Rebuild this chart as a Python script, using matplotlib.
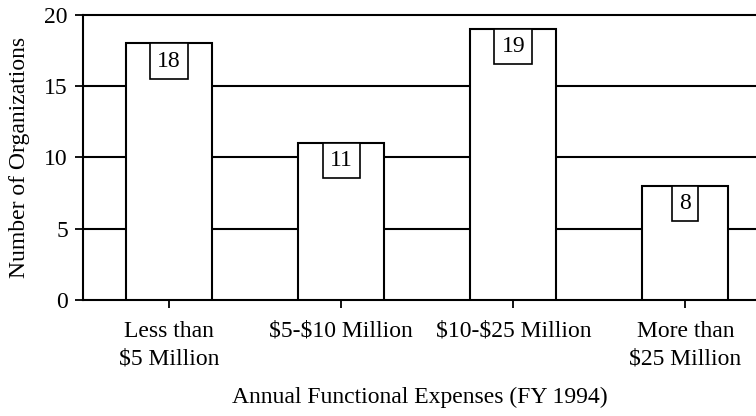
import matplotlib.pyplot as plt

categories = ["Less than\n$5 Million", "$5-$10 Million", "$10-$25 Million", "More than\n$25 Million"]
counts = [18, 11, 19, 8]
y_ticks = [0, 5, 10, 15, 20]

plt.rcParams['font.family'] = ['Liberation Serif', 'DejaVu Serif']
plt.rcParams['text.parse_math'] = False

fig = plt.figure(figsize=(7.56, 4.16), dpi=100)
ax = fig.add_axes([0.11, 0.279, 0.89, 0.685])

x = list(range(len(categories)))
ax.bar(x, counts, width=0.5, color='white', edgecolor='black', linewidth=1.5, zorder=3)

# value labels boxed, hanging from the top of each bar
fs = 17
for xi, v in zip(x, counts):
    ax.annotate(str(v), (xi, v), xytext=(0, -0.3 * fs), textcoords='offset points',
                ha='center', va='top', fontsize=fs, zorder=4,
                bbox=dict(boxstyle='square,pad=0.3', fc='white', ec='black', lw=1.2))

ax.set_xlim(-0.5, 3.41)
ax.set_ylim(0, 20)
ax.set_yticks(y_ticks)
ax.set_xticks(x)
ax.set_xticklabels(categories, fontsize=fs, linespacing=1.45)
ax.tick_params(axis='y', labelsize=fs, length=6, width=1.3, direction='out', pad=5)
ax.tick_params(axis='x', length=6, width=1.3, direction='out', pad=9)

for yv in y_ticks[1:-1]:
    ax.axhline(yv, color='black', linewidth=1.5, zorder=1)

for s in ['left', 'top', 'bottom']:
    ax.spines[s].set_linewidth(1.5)
ax.spines['right'].set_visible(False)

ax.set_ylabel("Number of Organizations", fontsize=fs, labelpad=10)
ax.set_xlabel("Annual Functional Expenses (FY 1994)", fontsize=fs, labelpad=12)

fig.savefig("out.png", dpi=100)
